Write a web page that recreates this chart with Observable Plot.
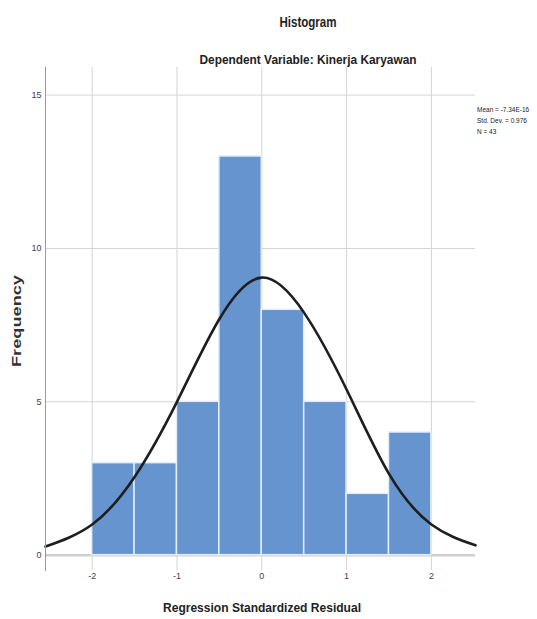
<!DOCTYPE html>
<html>
<head>
<meta charset="utf-8">
<script src="https://cdn.jsdelivr.net/npm/d3@7"></script>
<script src="https://cdn.jsdelivr.net/npm/@observablehq/plot@0.6"></script>
<style>
  html, body { margin: 0; padding: 0; background: #fff; }
</style>
</head>
<body>
<div id="chart"></div>
<script>
// ---- data ----
const binEdges = [-2, -1.5, -1, -0.5, 0, 0.5, 1, 1.5, 2];
const counts = [3, 3, 5, 13, 8, 5, 2, 4];
const curveX = [-2.55, -2, -1.5, -1, -0.5, 0, 0.5, 1, 1.5, 2, 2.52];
const curveY = [0.28, 1.0, 2.55, 5.0, 7.7, 9.05, 7.9, 5.4, 2.65, 1.0, 0.32];
const xTicks = [-2, -1, 0, 1, 2];
const yTicks = [0, 5, 10, 15];
const titleText = "Histogram";
const subtitleText = "Dependent Variable: Kinerja Karyawan";
const xLabel = "Regression Standardized Residual";
const yLabel = "Frequency";
const statsLines = ["Mean = -7.34E-16", "Std. Dev. = 0.976", "N = 43"];

const bars = counts.map((c, i) => ({x1: binEdges[i], x2: binEdges[i + 1], y: c}));
const curve = curveX.map((x, i) => ({x, y: curveY[i]}));

const font = "'Liberation Sans Narrow', 'Arial Narrow', 'Liberation Sans', Arial, sans-serif";

const chart = Plot.plot({
  width: 537,
  height: 619,
  marginLeft: 45,
  marginRight: 62,
  marginTop: 67,
  marginBottom: 49,
  style: {fontSize: "9px", fontFamily: font, color: "#444", background: "#fff"},
  x: {domain: [-2.55, 2.52]},
  y: {domain: [-0.5, 15.9]},
  marks: [
    Plot.gridX(xTicks, {stroke: "#d4d4d4", strokeOpacity: 1}),
    Plot.gridY(yTicks.filter(d => d > 0), {stroke: "#d4d4d4", strokeOpacity: 1}),
    Plot.ruleY([0], {stroke: "#cfcfcf", strokeWidth: 2.5}),
    Plot.rectY(bars, {x1: "x1", x2: "x2", y1: 0, y2: "y", fill: "#6694cf", stroke: "#e3eefb", strokeWidth: 1.5}),
    Plot.line(curve, {x: "x", y: "y", curve: "natural", stroke: "#1e1e1e", strokeWidth: 2.6}),
    Plot.frame({anchor: "left", stroke: "#9a9a9a"}),
    Plot.axisX(xTicks, {tickSize: 0, tickPadding: 2, label: null, tickFormat: d => d}),
    Plot.axisY(yTicks, {tickSize: 0, tickPadding: 4, label: null})
  ]
});

document.getElementById("chart").appendChild(chart);

const svg = d3.select(chart);
svg.append("text")
  .attr("x", 308).attr("y", 27)
  .attr("text-anchor", "middle")
  .attr("font-family", font).attr("font-size", 15).attr("font-weight", "bold")
  .attr("fill", "#222")
  .attr("textLength", 57).attr("lengthAdjust", "spacingAndGlyphs")
  .text(titleText);
svg.append("text")
  .attr("x", 308).attr("y", 64)
  .attr("text-anchor", "middle")
  .attr("font-family", font).attr("font-size", 13).attr("font-weight", "bold")
  .attr("fill", "#222")
  .attr("textLength", 217).attr("lengthAdjust", "spacingAndGlyphs")
  .text(subtitleText);
svg.append("text")
  .attr("x", 262).attr("y", 612)
  .attr("text-anchor", "middle")
  .attr("font-family", font).attr("font-size", 13).attr("font-weight", "bold")
  .attr("fill", "#222")
  .attr("textLength", 198).attr("lengthAdjust", "spacingAndGlyphs")
  .text(xLabel);
svg.append("text")
  .attr("transform", "translate(21,321) rotate(-90)")
  .attr("text-anchor", "middle")
  .attr("font-family", font).attr("font-size", 13).attr("font-weight", "bold")
  .attr("fill", "#333")
  .attr("textLength", 92).attr("lengthAdjust", "spacingAndGlyphs")
  .text(yLabel);
statsLines.forEach((s, i) => {
  svg.append("text")
    .attr("x", 477).attr("y", 112 + i * 11)
    .attr("text-anchor", "start")
    .attr("font-family", font).attr("font-size", 6.5).attr("fill", "#222")
    .text(s);
});
</script>
</body>
</html>
